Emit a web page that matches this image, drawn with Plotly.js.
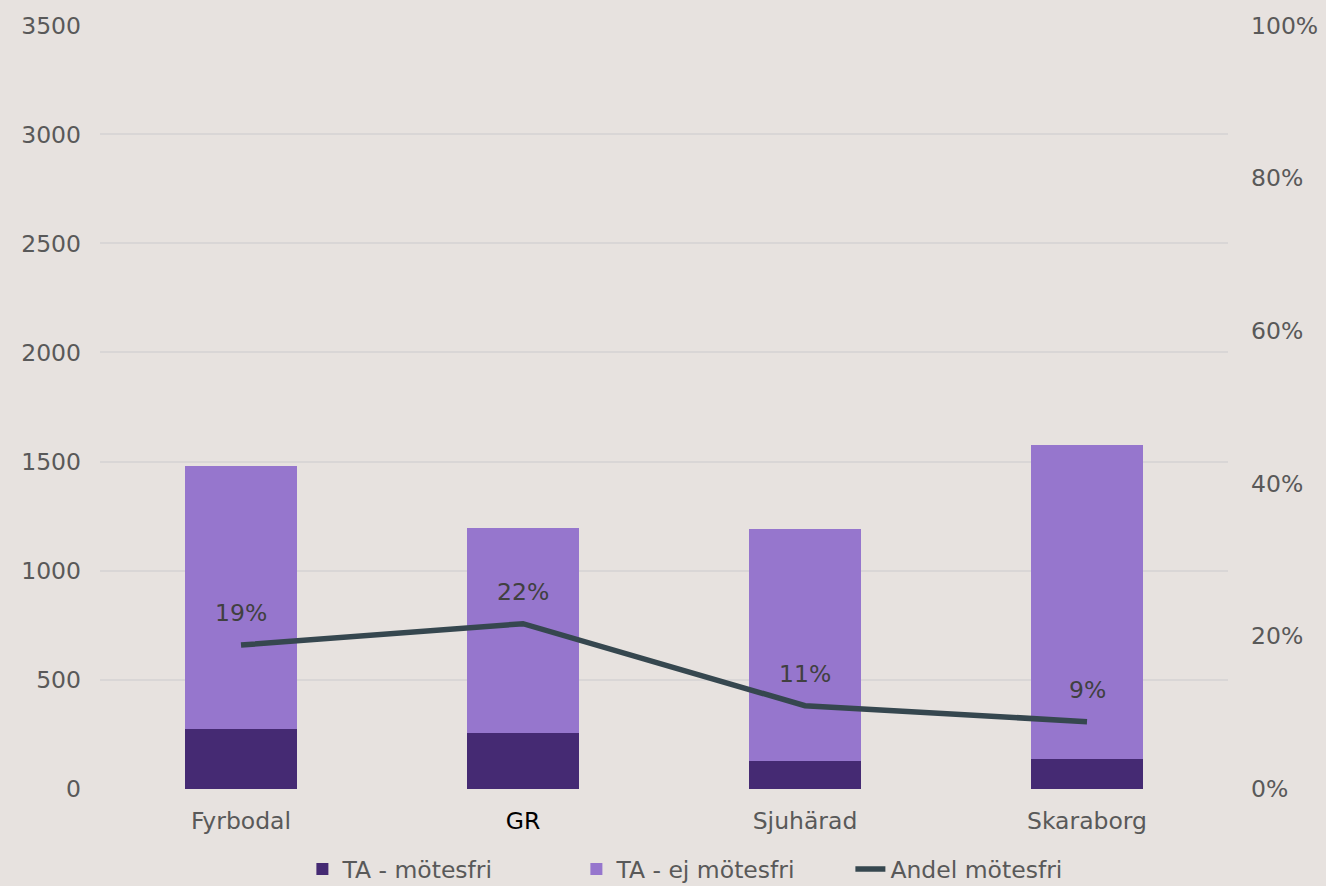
<!DOCTYPE html>
<html>
<head>
<meta charset="utf-8">
<script src="https://cdn.plot.ly/plotly-3.0.1.min.js"></script>
<style>
html,body{margin:0;padding:0;background:#E7E2DF;}
#chart{width:1326px;height:886px;}
</style>
</head>
<body>
<div id="chart"></div>
<script>
// Data
const categories = ["Fyrbodal", "GR", "Sjuhärad", "Skaraborg"];
const tickLabels = ["Fyrbodal", "<span style='fill:#000000'>GR</span>", "Sjuhärad", "Skaraborg"];
const taMotesfri = [275, 257, 128, 137];
const taEjMotesfri = [1205, 939, 1063, 1439];
const andelMotesfri = [0.188, 0.216, 0.1086, 0.0877];
const leftTicks = [0, 500, 1000, 1500, 2000, 2500, 3000, 3500];
const rightTicks = [0, 0.2, 0.4, 0.6, 0.8, 1.0];

const FONT = "DejaVu Sans, Verdana, sans-serif";
const GREY = "#595959";
const PAD = 2; // small range padding so edge gridlines are drawn

const traces = [
  {
    type: "bar", name: "TA - mötesfri", x: categories, y: taMotesfri,
    marker: {color: "#452A73"}, width: 0.4, hoverinfo: "skip"
  },
  {
    type: "bar", name: "TA - ej mötesfri", x: categories, y: taEjMotesfri,
    marker: {color: "#9676CD"}, width: 0.4, hoverinfo: "skip"
  },
  {
    type: "scatter", mode: "lines", name: "Andel mötesfri", x: categories, y: andelMotesfri,
    yaxis: "y2", line: {color: "#36474F", width: 5.5}, hoverinfo: "skip"
  }
];

const annotations = categories.map((c, i) => ({
  x: c, y: andelMotesfri[i], xref: "x", yref: "y2",
  text: Math.round(andelMotesfri[i] * 100) + "%",
  showarrow: false, yshift: 32,
  font: {family: FONT, size: 23.5, color: "#404040"}
}));

const layout = {
  width: 1326, height: 886,
  paper_bgcolor: "#E7E2DF", plot_bgcolor: "#E7E2DF",
  margin: {l: 100, r: 98, t: 25, b: 97, autoexpand: false},
  barmode: "stack",
  font: {family: FONT, size: 23.5, color: GREY},
  showlegend: true,
  legend: {
    orientation: "h", xref: "container", yref: "container",
    x: 0.538, xanchor: "center", y: 0.019, yanchor: "middle",
    font: {family: FONT, size: 23.5, color: GREY}, bgcolor: "rgba(0,0,0,0)",
    traceorder: "normal", entrywidth: 229, entrywidthmode: "pixels"
  },
  xaxis: {
    type: "category", tickvals: categories, ticktext: tickLabels,
    range: [-0.5, 3.5], showgrid: false, zeroline: false, showline: false,
    ticks: "", ticklabelstandoff: 15, automargin: false,
    tickfont: {family: FONT, size: 23.5, color: GREY}
  },
  yaxis: {
    range: [-PAD, 3500 + PAD], tickvals: leftTicks, ticktext: leftTicks.map(String),
    showgrid: true, gridcolor: "#D9D6D6", gridwidth: 2, zeroline: false, showline: false,
    ticks: "", ticklabelstandoff: 18, automargin: false,
    tickfont: {family: FONT, size: 23.5, color: GREY}
  },
  yaxis2: {
    range: [-PAD / 3500, 1 + PAD / 3500], tickvals: rightTicks, ticktext: rightTicks.map(v => Math.round(v * 100) + "%"),
    overlaying: "y", side: "right", showgrid: false, zeroline: false, showline: false,
    ticks: "", ticklabelstandoff: 22, automargin: false,
    tickfont: {family: FONT, size: 23.5, color: GREY}
  },
  annotations: annotations
};

Plotly.newPlot("chart", traces, layout, {staticPlot: true, displayModeBar: false});
</script>
</body>
</html>
